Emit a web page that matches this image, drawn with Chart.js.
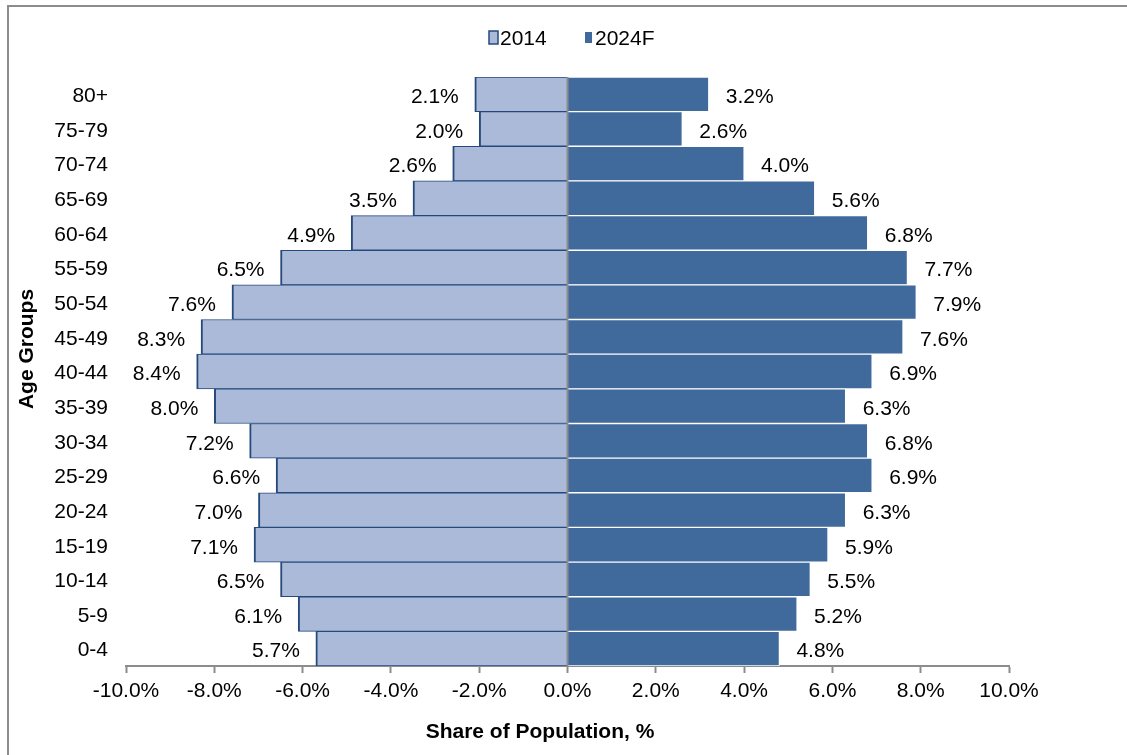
<!DOCTYPE html>
<html>
<head>
<meta charset="utf-8">
<script src="https://cdn.jsdelivr.net/npm/chart.js@4"></script>
<style>
  html, body { margin:0; padding:0; background:#fff; width:1127px; height:755px; overflow:hidden; }
  #frame { position:absolute; left:7px; top:5px; width:1200px; height:800px; border:2px solid #8c8c8c; box-sizing:border-box; }
  #wrap { position:absolute; left:0; top:0; width:1127px; height:755px; }
</style>
</head>
<body>
<div id="frame"></div>
<div id="wrap"><canvas id="c" width="1127" height="755"></canvas></div>
<script>
// Data (top row first)
const ageGroups = ["80+","75-79","70-74","65-69","60-64","55-59","50-54","45-49","40-44","35-39","30-34","25-29","20-24","15-19","10-14","5-9","0-4"];
const share2014 = [2.1,2.0,2.6,3.5,4.9,6.5,7.6,8.3,8.4,8.0,7.2,6.6,7.0,7.1,6.5,6.1,5.7];
const share2024F = [3.2,2.6,4.0,5.6,6.8,7.7,7.9,7.6,6.9,6.3,6.8,6.9,6.3,5.9,5.5,5.2,4.8];
const seriesNames = ["2014","2024F"];
const xTickMin = -10, xTickMax = 10, xTickStep = 2;
const xTitle = "Share of Population, %";
const yTitle = "Age Groups";

const FONT = "'Liberation Sans', Arial, sans-serif";
const FS = 21;
const C_LIGHT = "#AABAD8", C_LIGHT_BORDER = "#25497C", C_DARK = "#416A9C";

const overlay = {
  id: 'overlay',
  afterDatasetsDraw(chart) {
    const ctx = chart.ctx, x = chart.scales.x, area = chart.chartArea;
    // zero line on top of bars
    const x0 = x.getPixelForValue(0);
    ctx.save();
    ctx.strokeStyle = '#8c8c8c'; ctx.lineWidth = 2;
    ctx.beginPath(); ctx.moveTo(x0, area.top); ctx.lineTo(x0, area.bottom); ctx.stroke();
    // data labels
    ctx.font = FS + "px " + FONT; ctx.fillStyle = '#000'; ctx.textBaseline = 'middle';
    chart.getDatasetMeta(0).data.forEach((el, i) => {
      ctx.textAlign = 'right';
      ctx.fillText(share2014[i].toFixed(1) + '%', el.x - 16, el.y + 3);
    });
    chart.getDatasetMeta(1).data.forEach((el, i) => {
      ctx.textAlign = 'left';
      ctx.fillText(share2024F[i].toFixed(1) + '%', el.x + 17, el.y + 3);
    });
    ctx.restore();
  },
  afterDraw(chart) {
    const ctx = chart.ctx;
    ctx.save();
    ctx.fillStyle = '#000';
    // axis titles
    ctx.font = "bold " + FS + "px " + FONT;
    ctx.textAlign = 'center'; ctx.textBaseline = 'middle';
    ctx.fillText(xTitle, 540, 732);
    ctx.translate(27, 349); ctx.rotate(-Math.PI / 2);
    ctx.fillText(yTitle, 0, 0);
    ctx.restore();
    // legend
    ctx.save();
    ctx.font = FS + "px " + FONT; ctx.textBaseline = 'middle'; ctx.textAlign = 'left';
    ctx.fillStyle = C_LIGHT; ctx.fillRect(489, 31, 9, 13);
    ctx.strokeStyle = C_LIGHT_BORDER; ctx.lineWidth = 1.5; ctx.strokeRect(489, 31, 9, 13);
    ctx.fillStyle = '#000'; ctx.fillText(seriesNames[0], 500, 39);
    ctx.fillStyle = C_DARK; ctx.fillRect(585, 32, 7, 11);
    ctx.fillStyle = '#000'; ctx.fillText(seriesNames[1], 595, 39);
    ctx.restore();
  }
};

new Chart(document.getElementById('c'), {
  type: 'bar',
  data: {
    labels: ageGroups,
    datasets: [
      { label: seriesNames[0], data: share2014.map(v => -v), backgroundColor: C_LIGHT,
        borderColor: C_LIGHT_BORDER, borderWidth: {left: 2, top: 1, bottom: 1, right: 0}, borderSkipped: false,
        barPercentage: 1, categoryPercentage: 1 },
      { label: seriesNames[1], data: share2024F, backgroundColor: C_DARK,
        borderColor: '#ffffff', borderWidth: {left: 0, top: 1, bottom: 1, right: 1}, borderSkipped: false,
        barPercentage: 1, categoryPercentage: 1 }
    ]
  },
  options: {
    indexAxis: 'y',
    responsive: false,
    animation: false,
    devicePixelRatio: 1,
    layout: { padding: { left: 0, right: 118, top: 77, bottom: 0 } },
    plugins: { legend: { display: false }, tooltip: { enabled: false } },
    scales: {
      x: {
        stacked: true, min: xTickMin, max: xTickMax,
        ticks: { stepSize: xTickStep, color: '#000', font: { family: FONT, size: FS }, padding: 6,
                 maxRotation: 0, autoSkip: false,
                 callback: v => Number(v).toFixed(1) + '%' },
        grid: { drawOnChartArea: false, drawTicks: true, tickLength: 7, tickColor: '#8c8c8c', tickWidth: 2 },
        border: { display: true, color: '#8c8c8c', width: 2 },
        afterFit(scale) { scale.height = 89; }
      },
      y: {
        stacked: true,
        ticks: { color: '#000', font: { family: FONT, size: FS }, padding: 18, autoSkip: false, labelOffset: 2 },
        grid: { display: false, drawTicks: false },
        border: { display: false },
        afterFit(scale) { scale.width = 126; }
      }
    }
  },
  plugins: [overlay]
});
</script>
</body>
</html>
